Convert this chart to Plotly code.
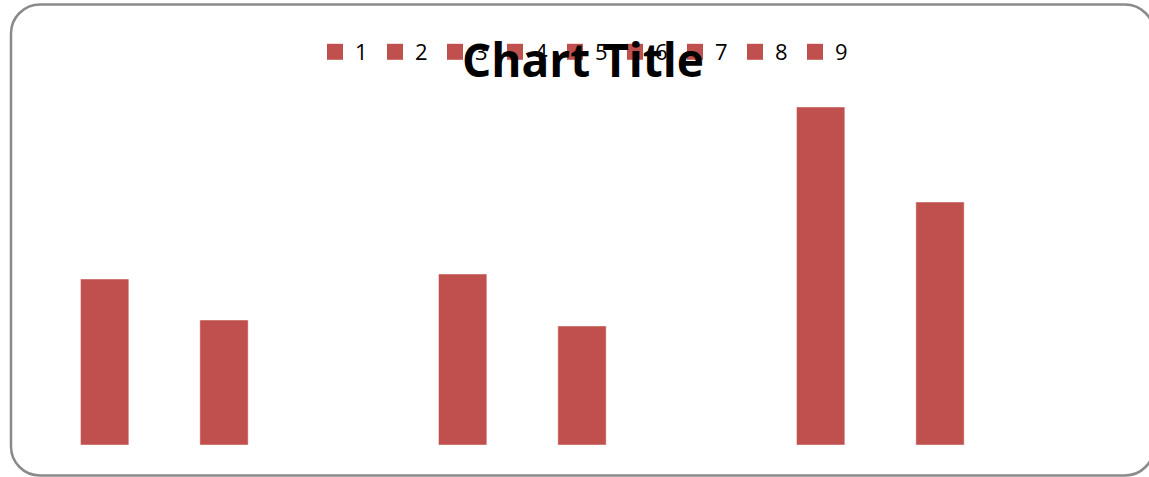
import plotly.graph_objects as go

categories = ["1", "2", "3", "4", "5", "6", "7", "8", "9"]
values = [166, 125, None, 171, 119, None, 338, 243, None]
title_text = "Chart Title"

BAR_COLOR = "#C0504D"
W, H = 1149, 477
ML, MR, MT, MB = 45, 30, 45, 32
PW, PH = W - ML - MR, H - MT - MB

fig = go.Figure()
for cat, val in zip(categories, values):
    fig.add_trace(go.Bar(
        x=[cat], y=[val], name=cat, legendgroup=cat,
        marker=dict(color=BAR_COLOR, line=dict(color="rgba(255,255,255,0.45)", width=1)),
        width=0.405, showlegend=False,
    ))
    # legend entry with a larger square swatch
    fig.add_trace(go.Scatter(
        x=[None], y=[None], name=cat, legendgroup=cat, mode="markers",
        marker=dict(symbol="square", size=16, color=BAR_COLOR),
        showlegend=True, hoverinfo="skip",
    ))

def px2paper(px, py):
    return (px - ML) / PW, (H - MB - py) / PH

# rounded border rectangle
x0, y0, x1, y1, r = 11, 4.5, 1154, 475.5, 29
k = 0.5523 * r
def P(x, y):
    a, b = px2paper(x, y)
    return f"{a:.5f},{b:.5f}"
path = (
    f"M {P(x0 + r, y0)} L {P(x1 - r, y0)} "
    f"C {P(x1 - r + k, y0)} {P(x1, y0 + r - k)} {P(x1, y0 + r)} "
    f"L {P(x1, y1 - r)} "
    f"C {P(x1, y1 - r + k)} {P(x1 - r + k, y1)} {P(x1 - r, y1)} "
    f"L {P(x0 + r, y1)} "
    f"C {P(x0 + r - k, y1)} {P(x0, y1 - r + k)} {P(x0, y1 - r)} "
    f"L {P(x0, y0 + r)} "
    f"C {P(x0, y0 + r - k)} {P(x0 + r - k, y0)} {P(x0 + r, y0)} Z"
)
fig.add_shape(type="path", path=path, xref="paper", yref="paper",
              line=dict(color="#8a8a8a", width=2.5), layer="below")

fig.update_layout(
    width=W, height=H,
    margin=dict(l=ML, r=MR, t=MT, b=MB, autoexpand=False),
    paper_bgcolor="white", plot_bgcolor="white",
    barmode="overlay",
    title=dict(text=title_text, x=583 / W, xanchor="center", xref="container",
               y=1 - 61 / H, yanchor="middle", yref="container", automargin=False,
               font=dict(family="Open Sans", size=46, color="black", weight="bold")),
    legend=dict(orientation="h", xref="container", yref="container",
                x=315 / W, xanchor="left", y=1 - 52 / H, yanchor="middle",
                font=dict(family="Open Sans", size=22, color="black"),
                bgcolor="rgba(0,0,0,0)", entrywidth=15, entrywidthmode="pixels",
                traceorder="normal", itemsizing="trace"),
    xaxis=dict(type="category", categoryorder="array", categoryarray=categories,
               range=[-0.5, 8.5], showticklabels=False, showgrid=False,
               zeroline=False, showline=False, ticks="", fixedrange=True),
    yaxis=dict(range=[0, PH], showticklabels=False, showgrid=False,
               zeroline=False, showline=False, ticks="", fixedrange=True),
    showlegend=True,
)

fig.write_html("out.html")
